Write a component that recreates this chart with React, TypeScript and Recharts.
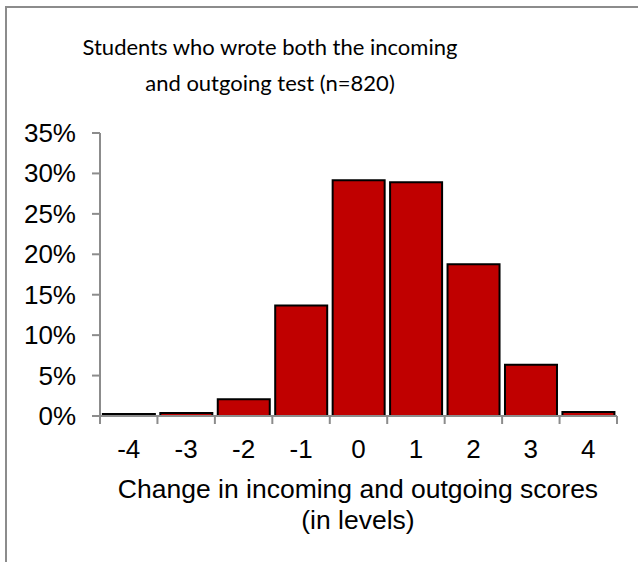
import { Bar, BarChart, XAxis, YAxis } from "recharts";

const categories = ["-4", "-3", "-2", "-1", "0", "1", "2", "3", "4"];
// share of students (%) per change in level, n=820
const shares = [0.24, 0.37, 2.07, 13.66, 29.15, 28.9, 18.78, 6.34, 0.49];
const yTicks = [0, 5, 10, 15, 20, 25, 30, 35];
const titleLines = ["Students who wrote both the incoming", "and outgoing test (n=820)"];
const xTitleLines = ["Change in incoming and outgoing scores", "(in levels)"];

const data = categories.map((change, i) => ({ change, share: shares[i] }));

const AXIS = "#8c8c8c";
const BAND = 517 / categories.length;
const ARIAL = "'Liberation Sans', Arial, sans-serif";

function XTick(props: any) {
	const { x, y, payload, index } = props;
	const left = x - BAND / 2;
	return (
		<g>
			<line x1={left} y1={y - 8} x2={left} y2={y} stroke={AXIS} strokeWidth={2} />
			{index === categories.length - 1 && (
				<line x1={x + BAND / 2} y1={y - 8} x2={x + BAND / 2} y2={y} stroke={AXIS} strokeWidth={2} />
			)}
			<text x={x} y={y + 34} textAnchor="middle" fontSize={26} fontFamily={ARIAL} fill="#000">
				{payload.value}
			</text>
		</g>
	);
}

function YTick(props: any) {
	const { x, y, payload } = props;
	return (
		<text x={x} y={y + 9} textAnchor="end" fontSize={26} fontFamily={ARIAL} fill="#000">
			{`${payload.value}%`}
		</text>
	);
}

export default function App() {
	return (
		<div style={{ position: "absolute", left: 0, top: 0, width: 638, height: 562, overflow: "hidden", background: "#fff" }}>
			<div
				style={{
					position: "absolute",
					left: 5,
					top: 6,
					width: 700,
					height: 700,
					borderLeft: `2px solid ${AXIS}`,
					borderTop: `2px solid ${AXIS}`,
				}}
			/>
			{titleLines.map((t, i) => (
				<div
					key={t}
					style={{
						position: "absolute",
						left: 270 - 300,
						width: 600,
						top: 30 + i * 36,
						lineHeight: "34px",
						textAlign: "center",
						fontFamily: "Lato, sans-serif",
						fontSize: 22,
						color: "#000",
					}}
				>
					{t}
				</div>
			))}
			<BarChart
				width={638}
				height={562}
				data={data}
				margin={{ top: 133, right: 21, bottom: 86, left: 0 }}
				barCategoryGap="5%"
				style={{ position: "absolute", left: 0, top: 0 }}
			>
				<XAxis
					dataKey="change"
					height={60}
					tickSize={8}
					tickMargin={0}
					tickLine={false}
					axisLine={{ stroke: AXIS, strokeWidth: 2 }}
					tick={<XTick />}
					interval={0}
				/>
				<YAxis
					width={100}
					domain={[0, 35]}
					ticks={yTicks}
					tickSize={8}
					tickMargin={16}
					axisLine={{ stroke: AXIS, strokeWidth: 2 }}
					tickLine={{ stroke: AXIS, strokeWidth: 2 }}
					tick={<YTick />}
				/>
				<Bar dataKey="share" fill="#c00000" stroke="#000" strokeWidth={2} isAnimationActive={false} />
			</BarChart>
			{xTitleLines.map((t, i) => (
				<div
					key={t}
					style={{
						position: "absolute",
						left: 358 - 300,
						width: 600,
						top: 474 + i * 31,
						lineHeight: "30px",
						textAlign: "center",
						fontFamily: ARIAL,
						fontSize: 26.5,
						color: "#000",
					}}
				>
					{t}
				</div>
			))}
		</div>
	);
}
